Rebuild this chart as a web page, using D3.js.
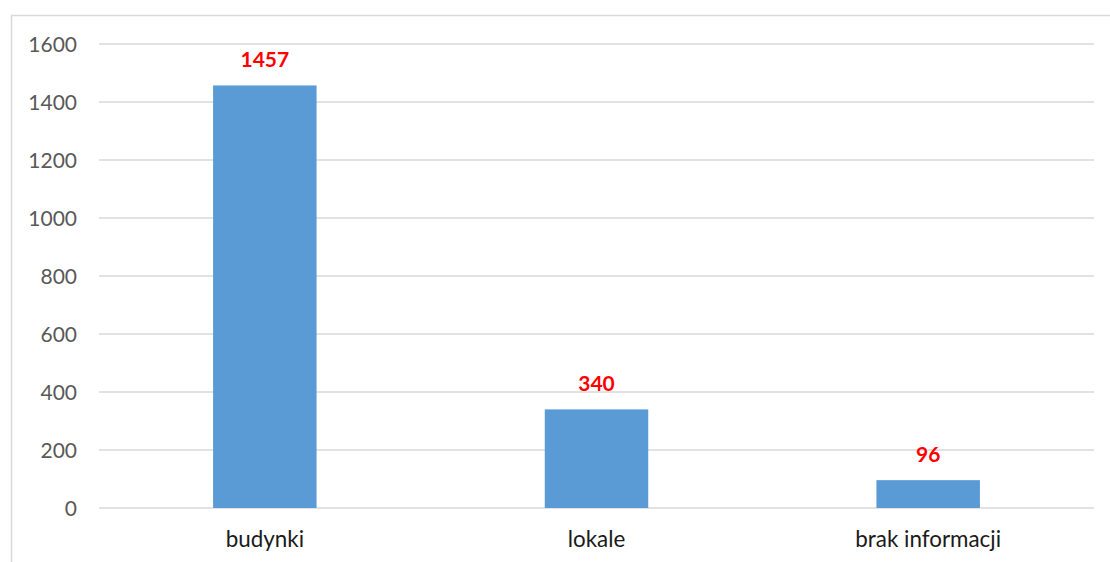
<!DOCTYPE html>
<html>
<head>
<meta charset="utf-8">
<script src="https://cdn.jsdelivr.net/npm/d3@7"></script>
<style>
  html, body { margin: 0; padding: 0; background: #fff; }
  svg { display: block; }
</style>
</head>
<body>
<svg id="chart" width="1110" height="562"></svg>
<script>
// Liczba obiektów wg rodzaju
const categories = ["budynki", "lokale", "brak informacji"];
const values = [1457, 340, 96];
const yTicks = [0, 200, 400, 600, 800, 1000, 1200, 1400, 1600];

const W = 1110, H = 562;
const plot = { left: 99, right: 1094, top: 44, bottom: 508 };
const font = "Lato, 'Open Sans', sans-serif";

const svg = d3.select("#chart");

// chart frame
svg.append("rect")
  .attr("x", 11.5).attr("y", 15.5)
  .attr("width", W + 10).attr("height", H + 10)
  .attr("fill", "#fff")
  .attr("stroke", "#d9d9d9").attr("stroke-width", 1.5);

const x = d3.scaleBand()
  .domain(categories)
  .range([plot.left, plot.right])
  .paddingInner(0)
  .paddingOuter(0);

const y = d3.scaleLinear()
  .domain([0, 1600])
  .range([plot.bottom, plot.top]);

// horizontal gridlines
svg.append("g")
  .selectAll("line")
  .data(yTicks)
  .join("line")
  .attr("x1", plot.left).attr("x2", plot.right)
  .attr("y1", d => y(d)).attr("y2", d => y(d))
  .attr("stroke", "#d9d9d9").attr("stroke-width", 1.3);

// y axis labels
const yAxis = d3.axisLeft(y).tickValues(yTicks).tickSize(0).tickPadding(0)
  .tickFormat(d3.format("d"));
const gy = svg.append("g")
  .attr("transform", `translate(${77},0)`)
  .call(yAxis);
gy.select(".domain").remove();
gy.selectAll("text")
  .attr("font-family", font)
  .attr("font-size", 21)
  .attr("fill", "#595959")
  .attr("dy", "0.36em");

// x axis labels
const xAxis = d3.axisBottom(x).tickSize(0).tickPadding(0);
const gx = svg.append("g")
  .attr("transform", `translate(0,${plot.bottom})`)
  .call(xAxis);
gx.select(".domain").remove();
gx.selectAll("text")
  .attr("font-family", font)
  .attr("font-size", 22.4)
  .attr("fill", "#1a1a1a")
  .attr("y", 39)
  .attr("dy", 0);

// bars
const barW = x.bandwidth() * 0.312;
const data = categories.map((c, i) => ({ c, v: values[i] }));

svg.append("g")
  .selectAll("rect")
  .data(data)
  .join("rect")
  .attr("x", d => x(d.c) + x.bandwidth() / 2 - barW / 2)
  .attr("width", barW)
  .attr("y", d => y(d.v))
  .attr("height", d => y(0) - y(d.v))
  .attr("fill", "#5b9bd5");

// value labels
svg.append("g")
  .selectAll("text")
  .data(data)
  .join("text")
  .attr("x", d => x(d.c) + x.bandwidth() / 2)
  .attr("y", d => y(d.v) - 18)
  .attr("text-anchor", "middle")
  .attr("font-family", font)
  .attr("font-size", 21)
  .attr("font-weight", "bold")
  .attr("fill", "#ff0000")
  .text(d => d.v);
</script>
</body>
</html>
